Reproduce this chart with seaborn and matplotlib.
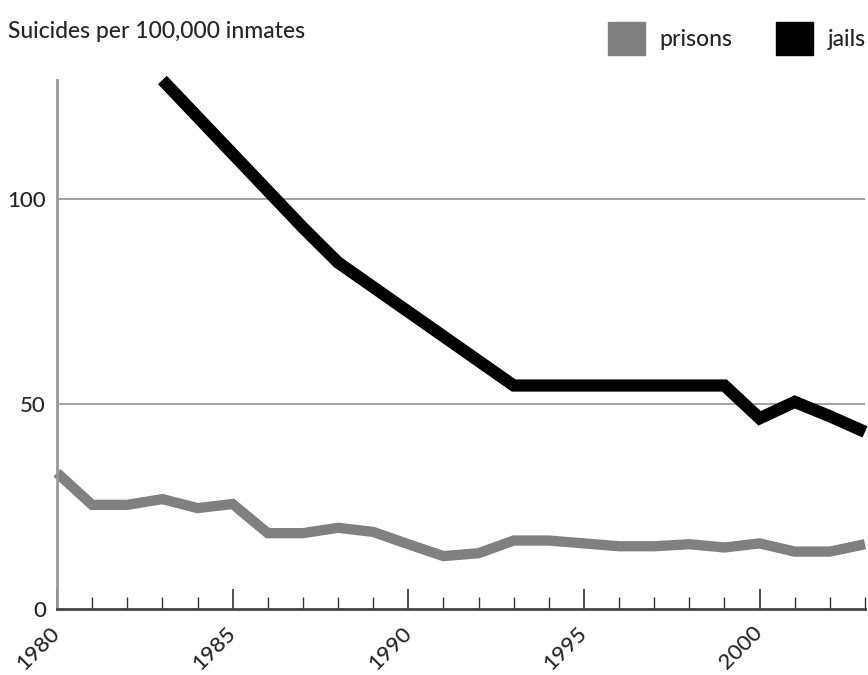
import matplotlib
matplotlib.use("Agg")
import matplotlib.pyplot as plt
import numpy as np
import pandas as pd
import seaborn as sns
from matplotlib.patches import Rectangle
from matplotlib.ticker import MultipleLocator

years = list(range(1980, 2004))
prisons = [33.2, 25.4, 25.4, 26.8, 24.6, 25.6, 18.5, 18.5, 19.8, 18.8,
           15.8, 12.9, 13.6, 16.7, 16.7, 16.0, 15.3, 15.3, 15.8, 15.0,
           16.0, 14.0, 14.0, 15.8]
jails = [np.nan, np.nan, np.nan, 129, 120, 111, 102, 93, 84.5, 78.5,
         72.5, 66.5, 60.5, 54.5, 54.5, 54.5, 54.5, 54.5, 54.5, 54.5,
         46.5, 50.5, 47, 43.2]
series = ["prisons", "jails"]
colors = ["#808080", "#000000"]
y_ticks = [0, 50, 100]
x_labels = [1980, 1985, 1990, 1995, 2000]

df = pd.DataFrame({"year": years, "prisons": prisons, "jails": jails})
long = df.melt(id_vars="year", var_name="type", value_name="rate").dropna()

sns.set_style("white")
plt.rcParams["font.family"] = ["Lato", "DejaVu Sans"]
fs = 16

fig = plt.figure(figsize=(8.68, 6.75), dpi=100)
ax = fig.add_axes([57 / 868, 66 / 675, 808 / 868, 529 / 675])

for name, col, lw in zip(series, colors, [7.4, 8.8]):
    sub = long[long["type"] == name]
    sns.lineplot(data=sub, x="year", y="rate", ax=ax, color=col,
                 linewidth=lw, legend=False, clip_on=False,
                 solid_capstyle="butt", solid_joinstyle="miter")

ax.set_xlim(1980, 2003)
ax.set_ylim(0, 129)

for y in y_ticks[1:]:
    ax.axhline(y, color="#9a9a9a", linewidth=1.3, zorder=0)

ax.set_yticks(y_ticks)
ax.set_yticklabels([str(v) for v in y_ticks], fontsize=fs, fontweight="medium")
ax.tick_params(axis="y", length=0, pad=8)

ax.set_xticks(x_labels)
ax.xaxis.set_minor_locator(MultipleLocator(1))
ax.set_xticklabels([str(v) for v in x_labels], fontsize=fs,
                   fontweight="medium", rotation=45, ha="right",
                   va="center", rotation_mode="anchor")
ax.tick_params(axis="x", which="both", bottom=True, direction="in",
               color="#333333")
ax.tick_params(axis="x", which="major", length=14.5, width=1.2, pad=15)
ax.tick_params(axis="x", which="minor", length=8.5, width=1.0)

for s in ["top", "right"]:
    ax.spines[s].set_visible(False)
ax.spines["left"].set_color("#999999")
ax.spines["left"].set_linewidth(2)
ax.spines["bottom"].set_color("#444444")
ax.spines["bottom"].set_linewidth(2)
ax.set_xlabel("")
ax.set_ylabel("")

fig.text(8 / 868, 1 - 32 / 675, "Suicides per 100,000 inmates",
         fontsize=fs + 0.5, fontweight="medium", va="center", ha="left")

handles = [Rectangle((0, 0), 1, 1, color=c) for c in colors]
fig.legend(handles, series, loc="upper right", ncol=2, frameon=False,
           bbox_to_anchor=(1.029, 1.008), prop={"size": fs + 0.5, "weight": "medium"},
           handlelength=1.6, handleheight=1.8, handletextpad=0.65,
           columnspacing=1.9, borderaxespad=0.8)

fig.savefig("out.png", dpi=100)
